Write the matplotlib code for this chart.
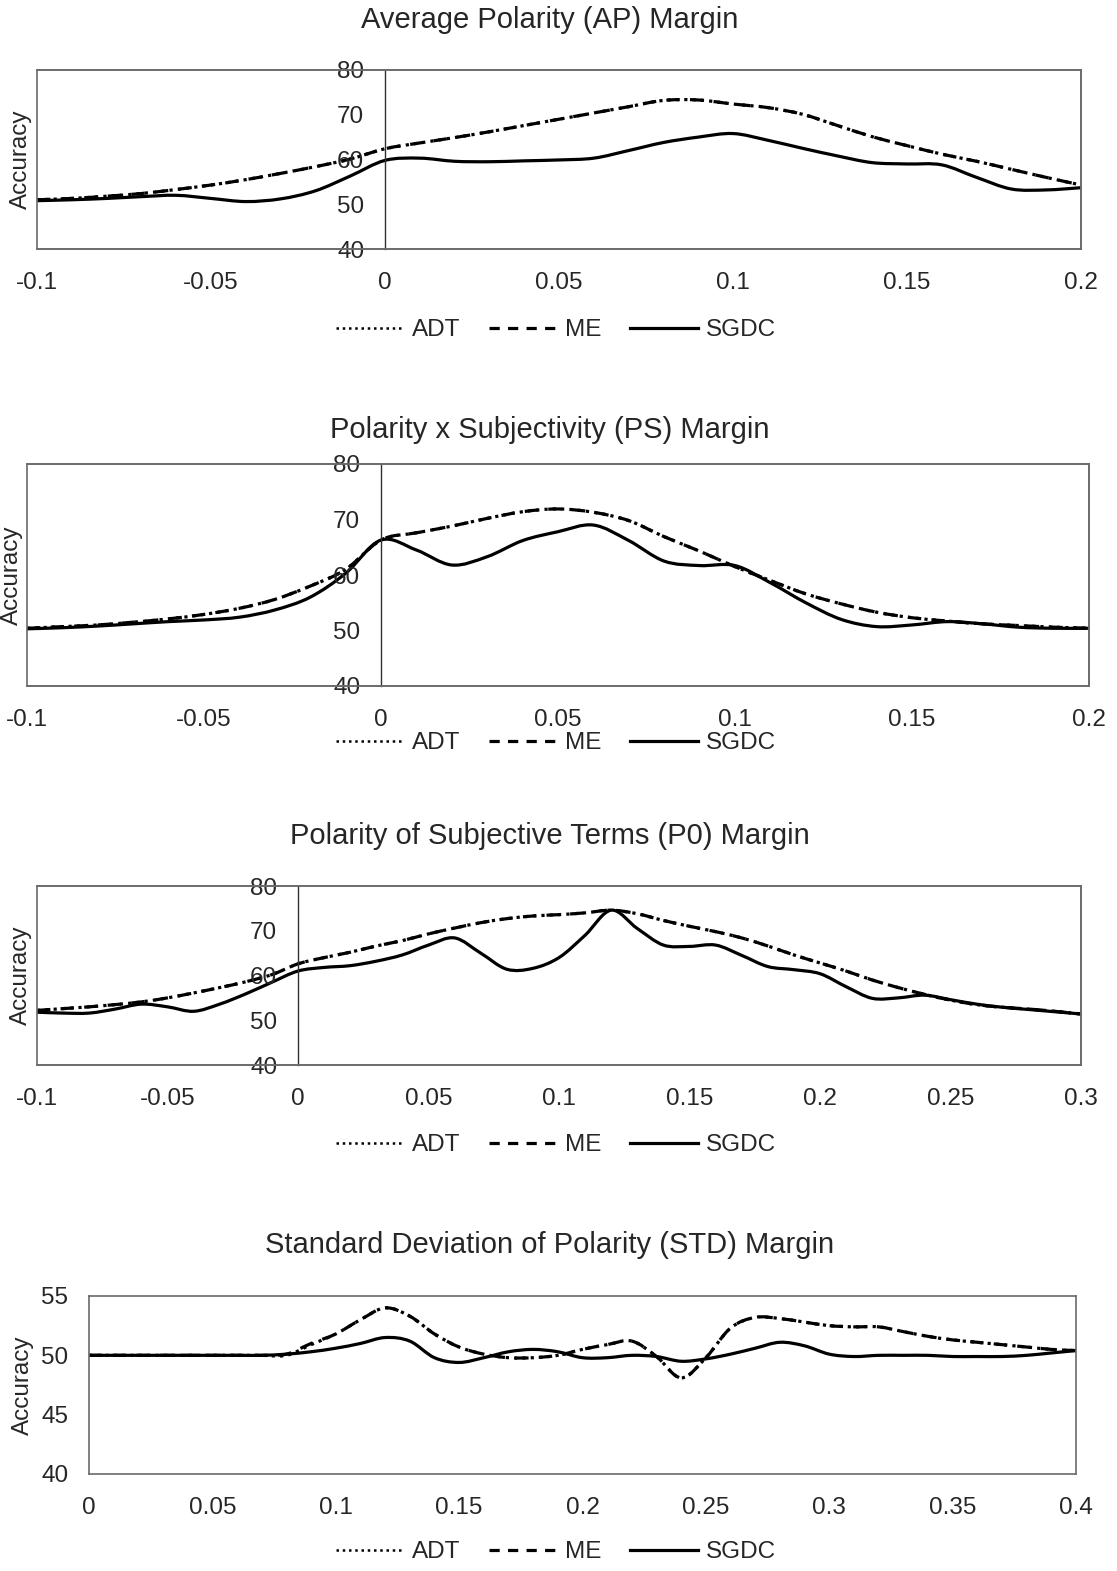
import numpy as np
import matplotlib
matplotlib.use("Agg")
import matplotlib.pyplot as plt
from matplotlib.patches import Rectangle, PathPatch
from matplotlib.path import Path
from matplotlib.lines import Line2D

plt.rcParams['font.family'] = ['Liberation Sans', 'DejaVu Sans']

# ---------------- data ----------------
# Panel 1: Average Polarity (AP) Margin, x = -0.10 .. 0.20 step 0.01
ap_x = [-0.10, -0.09, -0.08, -0.07, -0.06, -0.05, -0.04, -0.03, -0.02, -0.01, 0.00,
        0.01, 0.02, 0.03, 0.04, 0.05, 0.06, 0.07, 0.08, 0.09, 0.10,
        0.11, 0.12, 0.13, 0.14, 0.15, 0.16, 0.17, 0.18, 0.19, 0.20]
ap_me = [51.0, 51.3, 51.8, 52.4, 53.3, 54.3, 55.5, 56.9, 58.4, 60.1, 62.4,
         63.7, 64.9, 66.2, 67.6, 69.0, 70.4, 71.8, 73.2, 73.3, 72.4,
         71.6, 70.1, 67.6, 65.1, 63.1, 61.2, 59.6, 57.8, 56.0, 54.3]
ap_adt = list(ap_me)
ap_sgdc = [50.8, 51.0, 51.3, 51.7, 52.0, 51.3, 50.6, 51.2, 53.0, 56.3, 59.8,
           60.3, 59.6, 59.5, 59.7, 59.9, 60.3, 62.0, 63.8, 65.0, 65.8,
           64.3, 62.5, 60.8, 59.3, 59.0, 58.8, 56.0, 53.4, 53.2, 53.7]

# Panel 2: Polarity x Subjectivity (PS) Margin, x = -0.10 .. 0.20
ps_x = list(ap_x)
ps_me = [50.4, 50.7, 51.0, 51.5, 52.1, 52.9, 54.0, 55.6, 58.0, 61.0, 66.3,
         67.6, 68.8, 70.2, 71.4, 71.9, 71.3, 69.8, 66.9, 64.3, 61.5,
         59.0, 56.6, 54.8, 53.3, 52.3, 51.7, 51.2, 50.9, 50.6, 50.4]
ps_adt = list(ps_me)
ps_sgdc = [50.3, 50.5, 50.8, 51.2, 51.6, 51.9, 52.4, 53.7, 56.0, 60.3, 66.3,
           64.5, 61.8, 63.3, 66.2, 67.8, 69.0, 66.2, 62.5, 61.7, 61.7,
           58.6, 55.0, 52.0, 50.7, 51.0, 51.6, 51.2, 50.6, 50.4, 50.4]

# Panel 3: Polarity of Subjective Terms (P0) Margin, x = -0.10 .. 0.30
p0_x = [-0.10, -0.09, -0.08, -0.07, -0.06, -0.05, -0.04, -0.03, -0.02, -0.01, 0.00,
        0.01, 0.02, 0.03, 0.04, 0.05, 0.06, 0.07, 0.08, 0.09, 0.10,
        0.11, 0.12, 0.13, 0.14, 0.15, 0.16, 0.17, 0.18, 0.19, 0.20,
        0.21, 0.22, 0.23, 0.24, 0.25, 0.26, 0.27, 0.28, 0.29, 0.30]
p0_me = [52.2, 52.6, 53.0, 53.5, 54.1, 55.0, 56.1, 57.3, 58.6, 60.2, 62.6,
         64.0, 65.2, 66.6, 67.8, 69.3, 70.6, 71.8, 72.7, 73.3, 73.6,
         74.0, 74.6, 73.8, 72.3, 71.0, 69.8, 68.4, 66.6, 64.6, 62.8,
         61.0, 59.0, 57.3, 55.8, 54.5, 53.5, 52.9, 52.5, 52.0, 51.4]
p0_adt = list(p0_me)
p0_sgdc = [51.8, 51.6, 51.6, 52.5, 53.6, 53.0, 52.0, 53.6, 55.9, 58.5, 61.0,
           61.8, 62.2, 63.2, 64.6, 66.8, 68.4, 65.0, 61.4, 61.6, 64.0,
           69.0, 74.6, 70.5, 66.8, 66.5, 66.8, 64.5, 62.0, 61.3, 60.4,
           57.5, 54.9, 55.0, 55.6, 54.6, 53.6, 52.9, 52.4, 51.9, 51.4]

# Panel 4: Standard Deviation of Polarity (STD) Margin, x = 0 .. 0.40
std_x = [0.00, 0.01, 0.02, 0.03, 0.04, 0.05, 0.06, 0.07, 0.08, 0.09, 0.10,
         0.11, 0.12, 0.13, 0.14, 0.15, 0.16, 0.17, 0.18, 0.19, 0.20,
         0.21, 0.22, 0.23, 0.24, 0.25, 0.26, 0.27, 0.28, 0.29, 0.30,
         0.31, 0.32, 0.33, 0.34, 0.35, 0.36, 0.37, 0.38, 0.39, 0.40]
std_me = [50.0, 50.0, 50.0, 50.0, 50.0, 50.0, 50.0, 50.0, 50.1, 51.0, 51.8,
          53.0, 54.0, 53.3, 51.8, 50.7, 50.1, 49.8, 49.8, 50.0, 50.5,
          50.9, 51.2, 49.9, 48.1, 49.8, 52.3, 53.2, 53.1, 52.8, 52.5,
          52.4, 52.4, 52.0, 51.6, 51.3, 51.1, 50.9, 50.7, 50.5, 50.4]
std_adt = [50.0, 50.0, 50.0, 50.0, 50.0, 50.0, 50.0, 50.0, 50.0, 50.9, 51.8,
           53.0, 54.0, 53.3, 51.8, 50.7, 50.1, 49.8, 49.8, 50.0, 50.5,
           50.9, 51.2, 49.9, 48.1, 49.8, 52.3, 53.2, 53.1, 52.8, 52.5,
           52.4, 52.4, 52.0, 51.6, 51.3, 51.1, 50.9, 50.7, 50.5, 50.4]
std_sgdc = [50.0, 50.0, 50.0, 50.0, 50.0, 50.0, 50.0, 50.0, 50.1, 50.3, 50.6,
            51.0, 51.5, 51.2, 49.8, 49.4, 49.8, 50.3, 50.5, 50.3, 49.8,
            49.8, 50.0, 49.9, 49.5, 49.7, 50.1, 50.6, 51.1, 50.8, 50.1,
            49.9, 50.0, 50.0, 50.0, 49.9, 49.9, 49.9, 50.0, 50.2, 50.4]

titles = ["Average Polarity (AP) Margin",
          "Polarity x Subjectivity (PS) Margin",
          "Polarity of Subjective Terms (P0) Margin",
          "Standard Deviation of Polarity (STD) Margin"]
series_names = ["ADT", "ME", "SGDC"]

xticks_ap = [-0.1, -0.05, 0, 0.05, 0.1, 0.15, 0.2]
xticklabels_ap = ["-0.1", "-0.05", "0", "0.05", "0.1", "0.15", "0.2"]
xticks_p0 = [-0.1, -0.05, 0, 0.05, 0.1, 0.15, 0.2, 0.25, 0.3]
xticklabels_p0 = ["-0.1", "-0.05", "0", "0.05", "0.1", "0.15", "0.2", "0.25", "0.3"]
xticks_std = [0, 0.05, 0.1, 0.15, 0.2, 0.25, 0.3, 0.35, 0.4]
xticklabels_std = ["0", "0.05", "0.1", "0.15", "0.2", "0.25", "0.3", "0.35", "0.4"]
yticks_main = [40, 50, 60, 70, 80]
yticks_std = [40, 45, 50, 55]

# ---------------- figure ----------------
W, H = 1117, 1571
fig = plt.figure(figsize=(W / 100, H / 100), dpi=100)

TXT = '#262626'
FRAME = '#6a6a6a'
LW = 2.3
FS_TICK = 17.5
FS_TITLE = 21
FS_YLAB = 17.5
FS_LEG = 17.5


def px_axes(left, top, right, bottom):
    return fig.add_axes([left / W, 1 - bottom / H, (right - left) / W, (bottom - top) / H])


def smooth_line(ax, xs, ys, **kw):
    """Smoothed line (like a spreadsheet 'smoothed line') through the data points,
    drawn as cubic Bezier segments in data coordinates."""
    P = np.column_stack([np.asarray(xs, float), np.asarray(ys, float)])
    n = len(P)
    verts = [P[0]]
    codes = [Path.MOVETO]
    for i in range(n - 1):
        p0 = P[i - 1] if i > 0 else P[i]
        p1 = P[i]
        p2 = P[i + 1]
        p3 = P[i + 2] if i + 2 < n else P[i + 1]
        c1 = p1 + (p2 - p0) / 6.0
        c2 = p2 - (p3 - p1) / 6.0
        verts += [c1, c2, p2]
        codes += [Path.CURVE4] * 3
    patch = PathPatch(Path(verts, codes), fill=False, transform=ax.transData,
                      capstyle='butt', joinstyle='round', **kw)
    ax.add_patch(patch)


panels = [
    dict(box=(37, 70, 1081, 249), x=ap_x, adt=ap_adt, me=ap_me, sg=ap_sgdc,
         xlim=(-0.1, 0.2), ylim=(40, 80), xt=xticks_ap, xtl=xticklabels_ap, yt=yticks_main,
         zero=True, title_y=20, title_x=550, leg_y=330, ylab_x=21),
    dict(box=(27, 464, 1089, 686), x=ps_x, adt=ps_adt, me=ps_me, sg=ps_sgdc,
         xlim=(-0.1, 0.2), ylim=(40, 80), xt=xticks_ap, xtl=xticklabels_ap, yt=yticks_main,
         zero=True, title_y=430, title_x=550, leg_y=743, ylab_x=12),
    dict(box=(37, 886, 1081, 1065), x=p0_x, adt=p0_adt, me=p0_me, sg=p0_sgdc,
         xlim=(-0.1, 0.3), ylim=(40, 80), xt=xticks_p0, xtl=xticklabels_p0, yt=yticks_main,
         zero=True, title_y=836, title_x=550, leg_y=1145, ylab_x=21),
    dict(box=(89, 1296, 1076, 1474), x=std_x, adt=std_adt, me=std_me, sg=std_sgdc,
         xlim=(0, 0.4), ylim=(40, 55), xt=xticks_std, xtl=xticklabels_std, yt=yticks_std,
         zero=False, title_y=1245, title_x=550, leg_y=1552, ylab_x=23),
]

for i, p in enumerate(panels):
    ax = px_axes(*p['box'])
    smooth_line(ax, p['x'], p['adt'], edgecolor='black', lw=LW, linestyle=(0, (1, 1.6)))
    smooth_line(ax, p['x'], p['me'], edgecolor='black', lw=LW, linestyle=(0, (4.2, 3.2)))
    smooth_line(ax, p['x'], p['sg'], edgecolor='black', lw=LW, linestyle='-')
    ax.set_xlim(*p['xlim'])
    ax.set_ylim(*p['ylim'])
    ax.set_xticks(p['xt'])
    ax.set_xticklabels(p['xtl'])
    ax.set_yticks(p['yt'])
    ax.set_yticklabels([str(v) for v in p['yt']])
    for s in ax.spines.values():
        s.set_color(FRAME)
        s.set_linewidth(1.2)
    if p['zero']:
        ax.spines['left'].set_position(('data', 0))
        ax.spines['left'].set_color('#303030')
        ax.spines['left'].set_linewidth(1.0)
        ax.add_patch(Rectangle((0, 0), 1, 1, transform=ax.transAxes, fill=False,
                               edgecolor=FRAME, lw=1.2, zorder=5, clip_on=False))
    ax.tick_params(axis='y', length=0, pad=15, labelsize=FS_TICK, labelcolor=TXT)
    ax.tick_params(axis='x', length=0, pad=16.5, labelsize=FS_TICK, labelcolor=TXT)

    bl, bt, br, bb = p['box']
    fig.text(p['ylab_x'] / W, 1 - ((bt + bb) / 2) / H, "Accuracy", rotation=90,
             ha='center', va='center', fontsize=FS_YLAB, color=TXT)
    fig.text(p['title_x'] / W, 1 - p['title_y'] / H, titles[i], ha='center', va='center',
             fontsize=FS_TITLE, color=TXT)

    handles = [Line2D([], [], color='black', lw=1.8, linestyle=(0, (1, 1.5))),
               Line2D([], [], color='black', lw=2.3, linestyle=(0, (3.2, 2.6))),
               Line2D([], [], color='black', lw=2.3, linestyle='-')]
    fig.legend(handles, series_names, loc='center', ncol=3,
               bbox_to_anchor=(556 / W, 1 - p['leg_y'] / H), frameon=False,
               fontsize=FS_LEG, handlelength=2.8, handletextpad=0.3, columnspacing=1.2,
               labelcolor=TXT)

fig.savefig("out.png", dpi=100)
